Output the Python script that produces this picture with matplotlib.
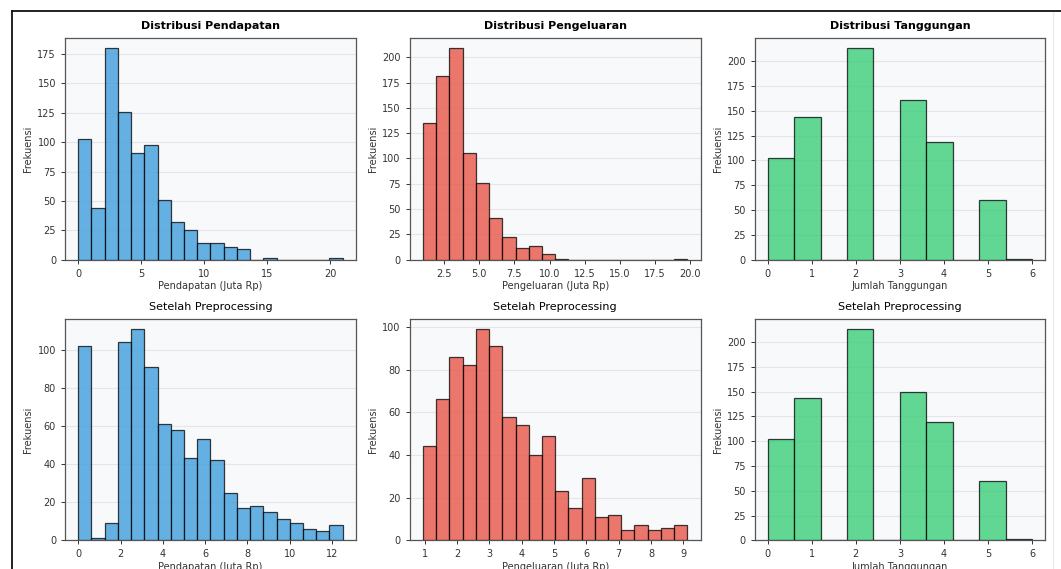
import numpy as np
import matplotlib
matplotlib.use('Agg')
import matplotlib.pyplot as plt
from matplotlib.lines import Line2D

# Histogram data: bin range + counts per bin (20 / 10 bins)
pendapatan_range = (0.0, 21.0)
pendapatan_counts = [103, 44, 180, 126, 91, 98, 51, 32, 25, 14,
                     14, 11, 9, 0, 1, 0, 0, 0, 0, 1]

pengeluaran_range = (1.0, 19.8)
pengeluaran_counts = [135, 182, 209, 105, 76, 41, 22, 11, 13, 5,
                      1, 0, 0, 0, 0, 0, 0, 0, 0, 1]

tanggungan_range = (0.0, 6.0)
tanggungan_counts = [102, 144, 0, 213, 0, 161, 119, 0, 60, 1]

pendapatan_pp_range = (0.0, 12.5)
pendapatan_pp_counts = [102, 1, 9, 104, 111, 91, 61, 58, 43, 53,
                        42, 25, 17, 18, 15, 11, 9, 6, 5, 8]

pengeluaran_pp_range = (0.95, 9.12)
pengeluaran_pp_counts = [44, 66, 86, 82, 99, 91, 58, 54, 40, 49,
                         23, 15, 29, 11, 12, 5, 7, 5, 6, 7]

tanggungan_pp_range = (0.0, 6.0)
tanggungan_pp_counts = [102, 144, 0, 213, 0, 150, 119, 0, 60, 1]

titles_top = ['Distribusi Pendapatan', 'Distribusi Pengeluaran', 'Distribusi Tanggungan']
title_bottom = 'Setelah Preprocessing'
xlabels = ['Pendapatan (Juta Rp)', 'Pengeluaran (Juta Rp)', 'Jumlah Tanggungan']
colors = ['#3498db', '#e74c3c', '#2ecc71']

plt.rcParams['font.family'] = ['DejaVu Sans']

fig, axes = plt.subplots(2, 3, figsize=(10.61, 5.69), dpi=100)
fig.subplots_adjust(left=0.0613, right=0.9852, top=0.9337, bottom=0.0504,
                    wspace=0.1856, hspace=0.266)

data = [
    [(pendapatan_range, pendapatan_counts),
     (pengeluaran_range, pengeluaran_counts),
     (tanggungan_range, tanggungan_counts)],
    [(pendapatan_pp_range, pendapatan_pp_counts),
     (pengeluaran_pp_range, pengeluaran_pp_counts),
     (tanggungan_pp_range, tanggungan_pp_counts)],
]

for r in range(2):
    for c in range(3):
        ax = axes[r, c]
        (lo, hi), counts = data[r][c]
        edges = np.linspace(lo, hi, len(counts) + 1)
        ax.set_facecolor('#f8f9fa')
        ax.hist(edges[:-1], bins=edges, weights=counts, color=colors[c],
                edgecolor='black', linewidth=0.9, alpha=0.75, zorder=3)
        ax.grid(axis='y', color='#e6e6ea', linewidth=0.8, zorder=0)
        ax.set_axisbelow(True)
        if r == 0:
            ax.set_title(titles_top[c], fontsize=8, fontweight='bold', pad=6)
        else:
            ax.set_title(title_bottom, fontsize=8, pad=6)
        ax.set_xlabel(xlabels[c], fontsize=7, color='#333333', labelpad=2)
        ax.set_ylabel('Frekuensi', fontsize=7, color='#333333', labelpad=3)
        ax.tick_params(labelsize=7, colors='#333333', length=3, width=0.7)
        for s in ax.spines.values():
            s.set_color('#555555')
            s.set_linewidth(0.9)

# screenshot frame
fig.add_artist(Line2D([11.5 / 1061, 1.0], [1 - 10.5 / 569, 1 - 10.5 / 569],
                      transform=fig.transFigure, color='#111111', linewidth=1.3))
fig.add_artist(Line2D([11.5 / 1061, 11.5 / 1061], [0.0, 1 - 10.5 / 569],
                      transform=fig.transFigure, color='#111111', linewidth=1.3))
fig.add_artist(Line2D([1053 / 1061, 1053 / 1061], [0.0, 1 - 11.5 / 569],
                      transform=fig.transFigure, color='#e8e8e8', linewidth=0.8))

fig.savefig('out.png', dpi=100, facecolor='white')
